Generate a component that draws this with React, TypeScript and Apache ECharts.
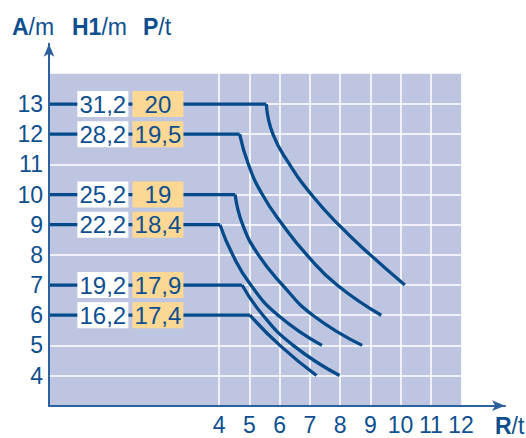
import React, { useEffect, useRef } from "react";
import * as echarts from "echarts";

// ---- data ----
const A_TICKS = [4, 5, 6, 7, 8, 9, 10, 11, 12, 13]; // A/m tick labels
const R_TICKS = [4, 5, 6, 7, 8, 9, 10, 11, 12]; // R/t tick labels
const BOOM_A = [13, 12, 10, 9, 7, 6]; // A/m of each curve
const HOOK_H1 = ["31,2", "28,2", "25,2", "22,2", "19,2", "16,2"]; // H1/m
const LOAD_P = ["20", "19,5", "19", "18,4", "17,9", "17,4"]; // P/t
const CORNER_R = [5.56, 4.68, 4.53, 4.03, 4.76, 5.02]; // end of flat part
const CURVE_13 = [[5.56, 13], [5.78, 12], [6.33, 11], [7.05, 10], [7.95, 9], [9.0, 8], [10.14, 7]];
const CURVE_12 = [[4.68, 12], [4.97, 11], [5.43, 10], [6.1, 9], [6.9, 8], [7.9, 7], [9.36, 6]];
const CURVE_10 = [[4.53, 10], [4.78, 9], [5.3, 8], [6.1, 7], [7.1, 6], [8.73, 5]];
const CURVE_9 = [[4.03, 9], [4.45, 8], [5.05, 7], [5.95, 6], [7.4, 5]];
const CURVE_7 = [[4.76, 7], [5.45, 6], [6.45, 5], [7.98, 4]];
const CURVE_6 = [[5.02, 6], [6.01, 5], [7.22, 4]];
const CURVES = [CURVE_13, CURVE_12, CURVE_10, CURVE_9, CURVE_7, CURVE_6];

// ---- layout / style ----
const X_MIN = -1.62;
const X_MAX = 13.45;
const Y_MIN = 3;
const Y_MAX = 15;
const PLOT_R_END = 12;
const PLOT_A_END = 14;
const BOX_X_WHITE = 0.16;
const BOX_X_ORANGE = 1.98;
const BG = "#bec5e0";
const LINE = "#034a8b";
const AXIS = "#2d609f";
const TEXT = "#0e4f90";
const ORANGE = "#fcd894";
const FONT = "'Liberation Sans', Arial, Helvetica, sans-serif";
const FS = 23;

export default function App() {
  const ref = useRef<HTMLDivElement>(null);
  useEffect(() => {
    if (!ref.current) return;
    const chart = echarts.init(ref.current, undefined, { renderer: "svg" });

    const series: any[] = [];
    series.push({
      type: "line",
      data: [],
      z: 1,
      silent: true,
      markArea: {
        silent: true,
        z: 1,
        itemStyle: { color: BG },
        data: [[{ xAxis: X_MIN, yAxis: Y_MIN }, { xAxis: PLOT_R_END, yAxis: PLOT_A_END }]],
      },
    });
    series.push({
      type: "line",
      data: [],
      z: 2,
      silent: true,
      markLine: {
        silent: true,
        z: 2,
        symbol: "none",
        label: { show: false },
        lineStyle: { color: "#ffffff", width: 1.5, type: "solid" },
        data: [
          ...R_TICKS.slice(0, -1).map((v) => ({ xAxis: v })),
          ...A_TICKS.map((v) => ({ yAxis: v })),
        ],
      },
    });
    BOOM_A.forEach((a, i) => {
      series.push({
        type: "line",
        z: 3,
        silent: true,
        symbol: "none",
        data: [[X_MIN, a], [CORNER_R[i], a]],
        lineStyle: { color: LINE, width: 3.3 },
      });
      series.push({
        type: "line",
        z: 3,
        silent: true,
        symbol: "none",
        smooth: 0.5,
        data: CURVES[i],
        lineStyle: { color: LINE, width: 3.3 },
      });
    });
    const boxLabel = {
      show: true,
      position: "inside",
      formatter: "{b}",
      color: TEXT,
      fontSize: 24,
      fontFamily: FONT,
    };
    series.push({
      type: "scatter",
      z: 5,
      silent: true,
      symbol: "rect",
      symbolSize: [51, 26],
      itemStyle: { color: "#ffffff", opacity: 1 },
      label: boxLabel,
      data: BOOM_A.map((a, i) => ({ name: HOOK_H1[i], value: [BOX_X_WHITE, a] })),
    });
    series.push({
      type: "scatter",
      z: 5,
      silent: true,
      symbol: "rect",
      symbolSize: [51, 26],
      itemStyle: { color: ORANGE, opacity: 1 },
      label: boxLabel,
      data: BOOM_A.map((a, i) => ({ name: LOAD_P[i], value: [BOX_X_ORANGE, a] })),
    });

    const rich = (bold: boolean) => ({
      fontSize: FS,
      fontFamily: FONT,
      fontWeight: bold ? "bold" : "normal",
      fill: TEXT,
      color: TEXT,
    });
    const headText = (left: number, top: number, b: string, rest: string) => ({
      type: "text",
      left,
      top,
      silent: true,
      style: {
        text: `{b|${b}}{r|${rest}}`,
        rich: { b: rich(true), r: rich(false) },
        fill: TEXT,
        fontSize: FS,
        fontFamily: FONT,
      },
    });

    chart.setOption({
      animation: false,
      grid: { left: 49, right: 21, top: 43.7, bottom: 32.3, outerBoundsMode: "none" },
      xAxis: {
        type: "value",
        min: X_MIN,
        max: X_MAX,
        z: 10,
        splitLine: { show: false },
        axisTick: { show: false },
        axisLine: {
          onZero: false,
          lineStyle: { color: AXIS, width: 2 },
          symbol: ["none", "arrow"],
          symbolSize: [8, 13],
        },
        axisLabel: {
          customValues: R_TICKS,
          color: TEXT,
          fontSize: FS,
          fontFamily: FONT,
          margin: 8,
        },
      },
      yAxis: {
        type: "value",
        min: Y_MIN,
        max: Y_MAX,
        interval: 1,
        z: 10,
        splitLine: { show: false },
        axisTick: { show: false },
        axisLine: {
          onZero: false,
          lineStyle: { color: AXIS, width: 2 },
          symbol: ["none", "arrow"],
          symbolSize: [8, 13],
        },
        axisLabel: {
          color: TEXT,
          fontSize: FS,
          fontFamily: FONT,
          margin: 6,
          formatter: (v: number) => (A_TICKS.includes(v) ? String(v) : ""),
        },
      },
      graphic: [
        headText(12, 15, "A", "/m"),
        headText(72, 15, "H1", "/m"),
        headText(143, 15, "P", "/t"),
        headText(495, 414, "R", "/t"),
      ],
      series,
    });
    return () => chart.dispose();
  }, []);
  return (
    <div
      ref={ref}
      style={{ position: "fixed", left: 0, top: 0, width: 526, height: 438, background: "#fff" }}
    />
  );
}
